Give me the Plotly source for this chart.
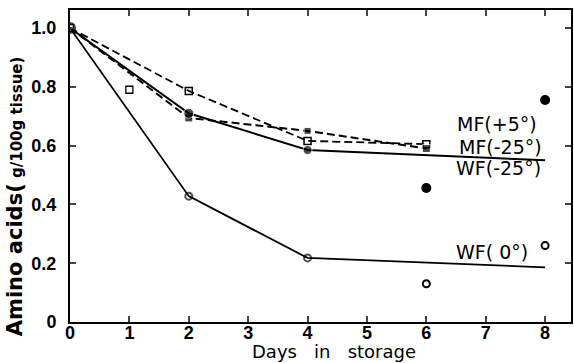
import plotly.graph_objects as go

# ---- data ----
mf_open_days = [0, 2, 4, 6]
mf_open_vals = [1.0, 0.786, 0.616, 0.605]
mf_filled_days = [0, 2, 4, 6]
mf_filled_vals = [1.0, 0.694, 0.65, 0.59]
wf25_days = [0, 2, 4, 8]
wf25_vals = [1.0, 0.71, 0.585, 0.55]
wf0_days = [0, 2, 4, 8]
wf0_vals = [1.0, 0.428, 0.218, 0.186]
iso_open_sq_days = [1]
iso_open_sq_vals = [0.79]
iso_filled_days = [6, 8]
iso_filled_vals = [0.456, 0.755]
iso_open_days = [6, 8]
iso_open_vals = [0.13, 0.26]

labels = ["MF(+5°)", "MF(-25°)", "WF(-25°)", "WF( 0°)"]
label_x = [6.49, 6.51, 6.47, 6.46]
label_y = [0.673, 0.595, 0.524, 0.238]

x_ticks = [0, 1, 2, 3, 4, 5, 6, 7, 8]
y_ticks = [0, 0.2, 0.4, 0.6, 0.8, 1.0]
y_tick_text = ["0", "0.2", "0.4", "0.6", "0.8", "1.0"]

BLACK = "black"
TICKFONT = dict(family="Liberation Sans, Arial", size=18, color=BLACK)
fig = go.Figure()

fig.add_trace(go.Scatter(x=mf_open_days, y=mf_open_vals, mode="lines+markers",
                         line=dict(color=BLACK, width=1.8, dash="8px,4px"),
                         marker=dict(symbol="square-open", size=7, color=BLACK, line=dict(width=1.5))))
fig.add_trace(go.Scatter(x=mf_filled_days, y=mf_filled_vals, mode="lines+markers",
                         line=dict(color=BLACK, width=2, dash="8px,4px"),
                         marker=dict(symbol="square", size=[0, 8, 7, 8], color=BLACK)))
fig.add_trace(go.Scatter(x=wf25_days, y=wf25_vals, mode="lines+markers",
                         line=dict(color=BLACK, width=2),
                         marker=dict(symbol="circle", size=[0, 10, 9, 0], color=BLACK)))
fig.add_trace(go.Scatter(x=wf0_days, y=wf0_vals, mode="lines+markers",
                         line=dict(color=BLACK, width=1.8),
                         marker=dict(symbol="circle-open", size=[10, 7, 7, 0], color=BLACK, line=dict(width=2))))
fig.add_trace(go.Scatter(x=iso_open_sq_days, y=iso_open_sq_vals, mode="markers",
                         marker=dict(symbol="square-open", size=7, color=BLACK, line=dict(width=1.3))))
fig.add_trace(go.Scatter(x=iso_filled_days, y=iso_filled_vals, mode="markers",
                         marker=dict(symbol="circle", size=10, color=BLACK)))
fig.add_trace(go.Scatter(x=iso_open_days, y=iso_open_vals, mode="markers",
                         marker=dict(symbol="circle-open", size=7, color=BLACK, line=dict(width=2))))

annotations = []
for t, lx, ly in zip(labels, label_x, label_y):
    annotations.append(dict(x=lx, y=ly, xref="x", yref="y", text=t, showarrow=False,
                            xanchor="left", yanchor="middle",
                            font=dict(family="DejaVu Sans", size=19, color=BLACK)))
annotations.append(dict(x=(335 - 70) / 503, y=-(351 - 322) / 312, xref="paper", yref="paper",
                        text="Days   in   storage", showarrow=False, xanchor="center", yanchor="middle",
                        font=dict(family="DejaVu Sans", size=18, color=BLACK)))
annotations.append(dict(x=-(70 - 15) / 503, y=(322 - 196) / 312, xref="paper", yref="paper",
                        text="<b>Amino acids(</b><b><span style='font-size:15px'> g/100g tissue)</span></b>",
                        textangle=-90, showarrow=False, xanchor="center", yanchor="middle",
                        font=dict(family="DejaVu Sans", size=21, color=BLACK)))

fig.update_layout(
    width=574, height=363,
    margin=dict(l=70, r=1, t=10, b=41),
    paper_bgcolor="white", plot_bgcolor="white",
    showlegend=False,
    annotations=annotations,
    xaxis=dict(range=[0, 503 / 59.625], tickvals=x_ticks, ticktext=["<b>%d</b>" % v for v in x_ticks],
               ticks="inside", ticklen=6, tickwidth=1.8, ticklabelstandoff=-7,
               showline=True, linecolor=BLACK, linewidth=2, mirror="ticks", showgrid=False,
               zeroline=False, tickfont=TICKFONT),
    yaxis=dict(range=[0, 312 / 294], tickvals=y_ticks, ticktext=["<b>%s</b>" % s for s in y_tick_text],
               ticks="inside", ticklen=6, tickwidth=1.8, ticklabelstandoff=8,
               showline=True, linecolor=BLACK, linewidth=2, mirror="ticks", showgrid=False,
               zeroline=False, tickfont=TICKFONT),
)

fig.write_html("out.html")
